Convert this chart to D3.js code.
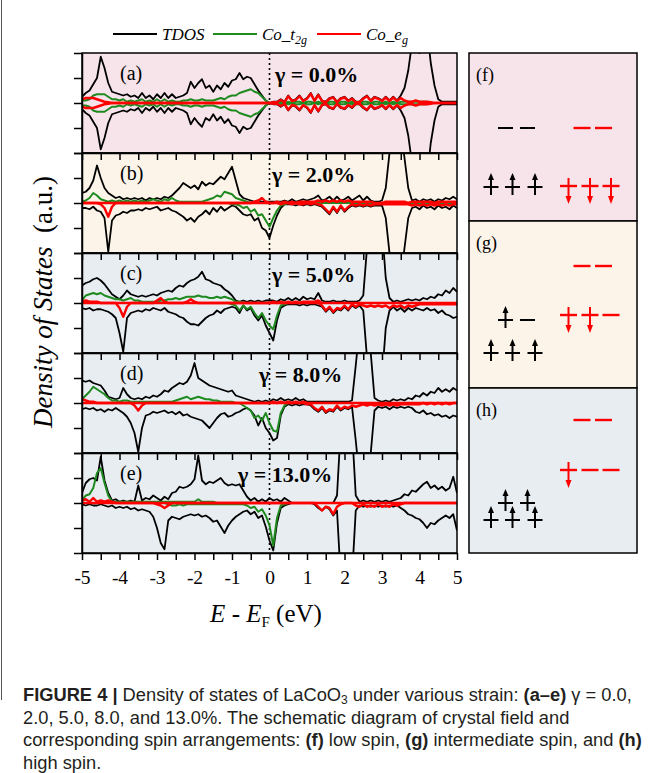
<!DOCTYPE html>
<html>
<head>
<meta charset="utf-8">
<script src="https://cdn.jsdelivr.net/npm/d3@7"></script>
<style>
  body { margin: 0; background: #fff; }
  svg text { font-family: "Liberation Serif", "Times New Roman", serif; }
</style>
</head>
<body>
<div id="chart"></div>
<script>
// energy grid, -5 ... 5 eV in 0.1 eV steps (101 points)
const energy = d3.range(101).map(i => +(-5 + i * 0.1).toFixed(1));
const xTicks = [-5,-4.5,-4,-3.5,-3,-2.5,-2,-1.5,-1,-0.5,0,0.5,1,1.5,2,2.5,3,3.5,4,4.5,5];
const yTicks = [-2,-1,0,1,2];
const panelLetters = ["(a)","(b)","(c)","(d)","(e)"];
const strainLabels = ["γ = 0.0%","γ = 2.0%","γ = 5.0%","γ = 8.0%","γ = 13.0%"];
const legendNames = ["TDOS","Co_t2g","Co_eg"];

// one row per 1.0 eV: -5.0..-4.1 / -4.0..-3.1 / ... / 4.0..4.9 / 5.0
// spin-down arrays hold magnitudes (drawn below zero)

// ---- (a) gamma = 0.0 %, non magnetic: same curve for both spins
const tdosA = [
  0.25,0.4,0.5,0.75,1.0,1.85,1.4,0.8,0.45,0.4,
  0.35,0.3,0.35,0.25,0.3,0.2,0.4,0.2,0.3,0.15,
  0.35,0.2,0.4,0.2,0.35,0.2,0.25,0.3,0.4,0.85,
  0.6,0.8,0.95,0.6,0.7,0.45,0.7,0.55,0.8,0.65,
  0.9,0.95,1.2,0.95,1.05,1.0,0.75,0.5,0.3,0.1,
  0,0.05,0.05,0.15,0.05,0.3,0.1,0.15,0.3,0.1,
  0.2,0.4,0.1,0.35,0.1,0.05,0.2,0.25,0.05,0.2,
  0.25,0.1,0.2,0.05,0.05,0.2,0.3,0.1,0.25,0.2,
  0.1,0.25,0.1,0.25,0.1,0.3,0.6,1.3,2.4,3,
  2.0,3,3,1.6,0.7,0.15,0.05,0.05,0.05,0.05,
  0.05];
const t2gA = [
  0.1,0.1,0.15,0.3,0.35,0.35,0.35,0.25,0.15,0.15,
  0.1,0.15,0.05,0.1,0.05,0.1,0.15,0.05,0.1,0.05,
  0.15,0.05,0.15,0.05,0.1,0.05,0.05,0.1,0.1,0.15,
  0.1,0.1,0.15,0.1,0.1,0.1,0.15,0.2,0.15,0.25,
  0.3,0.3,0.4,0.45,0.5,0.55,0.45,0.4,0.25,0.1,
  0,0,0,0.05,0,0.05,0,0.05,0.05,0,
  0.05,0.05,0,0.05,0,0,0.05,0.05,0,0.05,
  0.05,0,0.05,0,0,0.05,0.05,0,0.05,0.05,
  0,0.05,0,0.05,0,0.05,0.05,0.05,0.05,0.05,
  0.05,0.05,0.05,0,0,0,0,0,0,0,
  0];
const egA = [
  0.15,0.2,0.2,0.2,0.15,0.1,0.05,0.03,0,0,
  0,0,0,0,0,0,0,0,0,0,
  0,0,0,0,0,0,0,0,0,0,
  0,0,0,0,0,0,0,0,0,0,
  0,0,0,0,0,0,0,0,0,0,
  0,0.03,0.03,0.12,0.03,0.27,0.08,0.12,0.27,0.08,
  0.17,0.37,0.08,0.32,0.08,0.03,0.17,0.22,0.03,0.17,
  0.22,0.08,0.17,0.03,0.03,0.17,0.27,0.08,0.22,0.17,
  0.08,0.22,0.08,0.22,0.08,0.2,0.1,0.05,0.05,0.1,
  0.05,0.05,0.05,0.03,0,0,0,0,0,0,
  0];

// ---- (b) gamma = 2.0 %
const tdosUpB = [
  0.4,0.45,0.6,0.9,1.5,1.0,0.6,0.4,0.3,0.2,
  0.25,0.15,0.2,0.15,0.2,0.15,0.2,0.1,0.2,0.15,
  0.2,0.15,0.25,0.2,0.3,0.45,0.6,0.8,0.7,0.6,
  0.7,0.55,0.85,0.7,0.8,0.75,0.9,1.05,0.95,1.2,
  1.45,0.9,0.35,0.2,0.15,0.1,0.05,0.1,0.05,0.05,
  0.05,0.05,0.05,0.05,0.1,0.05,0.15,0.05,0.1,0.15,
  0.1,0.15,0.2,0.3,0.1,0.15,0.25,0.1,0.25,0.1,
  0.15,0.25,0.1,0.2,0.3,0.1,0.25,0.1,0.05,0.05,
  0.1,0.6,2.0,3,3,3,1.8,0.6,0.1,0.15,
  0.05,0.15,0.1,0.15,0.05,0.15,0.1,0.2,0.15,0.25,
  0.15];
const tdosDnB = [
  0.2,0.2,0.25,0.15,0.3,0.35,0.6,1.95,0.7,0.5,
  0.45,0.35,0.4,0.3,0.3,0.25,0.3,0.2,0.25,0.2,
  0.15,0.3,0.25,0.2,0.3,0.35,0.45,0.55,0.7,0.6,
  0.75,0.55,0.45,0.3,0.45,0.2,0.35,0.15,0.3,0.2,
  0.1,0.15,0.3,0.45,0.5,0.45,0.7,0.6,1.0,1.1,
  1.4,0.9,0.5,0.2,0.05,0.05,0.05,0.1,0.05,0.1,
  0.05,0.1,0.05,0.1,0.15,0.3,0.45,0.2,0.4,0.15,
  0.35,0.2,0.1,0.15,0.1,0.15,0.1,0.15,0.1,0.1,
  0.1,0.6,2.0,3,3,3,1.8,0.6,0.2,0.15,
  0.25,0.1,0.2,0.15,0.25,0.1,0.2,0.15,0.25,0.1,
  0.2];
const t2gUpB = [
  0.05,0.1,0.2,0.4,0.3,0.15,0.1,0.05,0.1,0.05,
  0.1,0.05,0.1,0.05,0.1,0.05,0.1,0.05,0.1,0.15,
  0.1,0.05,0.15,0.1,0.2,0.1,0.05,0.05,0.05,0.05,
  0.05,0.05,0.05,0.1,0.15,0.2,0.3,0.25,0.45,0.4,
  0.35,0.2,0.15,0.1,0.05,0,0,0,0,0,
  0,0,0,0,0,0,0,0,0,0,
  0,0,0,0,0,0,0,0,0,0,
  0,0,0,0,0,0,0,0,0,0,
  0,0,0,0,0,0,0,0,0,0,
  0,0,0,0,0,0,0,0,0,0,
  0];
const t2gDnB = [
  0,0,0,0,0,0,0,0,0,0,
  0,0,0,0,0,0,0,0,0,0,
  0,0,0,0,0,0,0,0,0,0,
  0,0,0,0,0,0,0,0,0,0,
  0.05,0.05,0.1,0.2,0.15,0.35,0.25,0.5,0.45,0.7,
  0.95,0.6,0.3,0.1,0.05,0,0,0,0,0,
  0,0,0,0,0,0,0,0,0,0,
  0,0,0,0,0,0,0,0,0,0,
  0,0,0,0,0,0,0,0,0,0,
  0,0,0,0,0,0,0,0,0,0,
  0];
const egUpB = [
  0,0,0,0,0,0,0,0,0,0,
  0,0,0,0,0,0,0,0,0,0,
  0,0,0,0,0,0,0,0,0,0,
  0,0,0,0,0,0,0,0,0,0,
  0,0,0,0,0,0,0.05,0.1,0.2,0.05,
  0,0,0.05,0,0.05,0,0.05,0,0.05,0.05,
  0.05,0.05,0.05,0.1,0.05,0.1,0.05,0.1,0.05,0.1,
  0.05,0.1,0.05,0.05,0.05,0.05,0.05,0.05,0,0,
  0,0.05,0.05,0.05,0.05,0.05,0.05,0,0.05,0.05,
  0.05,0.05,0.05,0.05,0,0.05,0.05,0.05,0.05,0.05,
  0.05];
const egDnB = [
  0,0,0,0,0,0.05,0.2,0.55,0.15,0,
  0,0,0,0,0,0,0,0,0,0,
  0,0,0,0,0,0,0,0,0,0,
  0,0,0,0,0,0,0,0,0,0,
  0,0,0,0,0,0,0,0,0,0,
  0,0,0,0.05,0,0,0.05,0,0.05,0.05,
  0,0.05,0,0.05,0.1,0.25,0.4,0.15,0.35,0.1,
  0.3,0.15,0.05,0.1,0.05,0.1,0.05,0.1,0.05,0.05,
  0.05,0.05,0.05,0.05,0.05,0.05,0.05,0.05,0.1,0.05,
  0.1,0.05,0.1,0.05,0.1,0.05,0.1,0.05,0.1,0.05,
  0.05];

// ---- (c) gamma = 5.0 %
const tdosUpC = [
  0.7,0.8,0.85,0.95,1.0,0.9,0.75,0.55,0.35,0.25,
  0.15,0.3,0.5,0.35,0.3,0.25,0.3,0.25,0.3,0.35,
  0.3,0.4,0.45,0.5,0.45,0.6,0.7,0.65,0.8,0.9,
  0.95,1.05,1.25,0.95,0.9,0.8,0.75,0.7,0.55,0.45,
  0.3,0.1,0.05,0.1,0.05,0.1,0.05,0.1,0.05,0.1,
  0.1,0.1,0.05,0.15,0.1,0.2,0.1,0.2,0.1,0.25,
  0.15,0.2,0.15,0.4,0.1,0.05,0.05,0.1,0.05,0.05,
  0.1,0.05,0.05,0.05,0.1,0.3,2.2,3,3,3,
  3,1.0,0.2,0.05,0.1,0.05,0.1,0.15,0.1,0.15,
  0.1,0.2,0.15,0.25,0.2,0.35,0.3,0.5,0.4,0.6,
  0.45];
const tdosDnC = [
  0.2,0.25,0.2,0.3,0.25,0.25,0.3,0.35,0.45,0.6,
  1.2,1.95,0.6,0.4,0.35,0.3,0.35,0.25,0.3,0.2,
  0.25,0.3,0.2,0.35,0.4,0.45,0.55,0.6,0.75,0.85,
  0.85,0.9,0.75,0.6,0.5,0.45,0.3,0.4,0.25,0.2,
  0.15,0.2,0.4,0.1,0.3,0.2,0.5,0.7,0.5,0.9,
  1.2,1.5,0.7,0.2,0.1,0.05,0.05,0.05,0.1,0.05,
  0.1,0.05,0.05,0.1,0.15,0.35,0.2,0.4,0.25,0.3,
  0.15,0.3,0.1,0.2,0.1,0.3,2.2,3,3,3,
  3,1.0,0.3,0.15,0.3,0.2,0.35,0.2,0.3,0.2,
  0.25,0.3,0.2,0.3,0.25,0.4,0.3,0.45,0.5,0.6,
  0.55];
const t2gUpC = [
  0.1,0.3,0.35,0.4,0.35,0.4,0.3,0.25,0.2,0.15,
  0.15,0.1,0.15,0.2,0.1,0.1,0.05,0.05,0.05,0.05,
  0.05,0.1,0.1,0.15,0.15,0.2,0.15,0.2,0.25,0.25,
  0.25,0.3,0.25,0.25,0.2,0.2,0.25,0.2,0.25,0.2,
  0.15,0.05,0.05,0,0,0,0,0,0,0,
  0,0,0,0,0,0,0,0,0,0,
  0,0,0,0,0,0,0,0,0,0,
  0,0,0,0,0,0,0,0,0,0,
  0,0,0,0,0,0,0,0,0,0,
  0,0,0,0,0,0,0,0,0,0,
  0];
const t2gDnC = [
  0,0,0,0,0,0,0,0,0,0,
  0,0,0,0,0,0,0,0,0,0,
  0,0,0,0,0,0,0,0,0,0,
  0,0,0,0,0,0,0,0,0,0,
  0.05,0.1,0.3,0.1,0.25,0.15,0.4,0.6,0.4,0.7,
  0.9,1.05,0.5,0.1,0.05,0,0,0,0,0,
  0,0,0,0,0,0,0,0,0,0,
  0,0,0,0,0,0,0,0,0,0,
  0,0,0,0,0,0,0,0,0,0,
  0,0,0,0,0,0,0,0,0,0,
  0];
const egUpC = [
  0.05,0.1,0.05,0.05,0.05,0,0,0,0,0,
  0,0,0,0,0,0,0,0,0,0,
  0.1,0.2,0.05,0,0,0,0,0,0.05,0.15,
  0.05,0,0,0,0,0,0,0,0,0,
  0,0,0,0,0,0,0,0,0,0,
  0,0.05,0,0.05,0,0.05,0,0.05,0,0.05,
  0.05,0.05,0.05,0.1,0,0,0,0,0,0,
  0,0,0,0,0,0,0,0,0,0,
  0,0,0,0,0,0,0,0,0,0,
  0,0,0,0,0,0,0,0,0,0,
  0];
const egDnC = [
  0,0,0,0,0,0,0,0,0,0,
  0.2,0.55,0.15,0,0,0,0,0,0,0,
  0,0,0,0,0,0,0,0,0,0,
  0,0,0,0,0,0,0,0,0,0,
  0,0,0,0,0,0,0,0,0,0,
  0,0,0,0,0,0,0,0,0,0,
  0,0,0,0,0.1,0.3,0.15,0.35,0.2,0.25,
  0.1,0.25,0.05,0.15,0.05,0.1,0.15,0.1,0.15,0.1,
  0.15,0.1,0.2,0.1,0.15,0.1,0.2,0.1,0.15,0.1,
  0.05,0.05,0.05,0.05,0.05,0.05,0.05,0.05,0.05,0.05,
  0.05];

// ---- (d) gamma = 8.0 %
const tdosUpD = [
  0.9,0.85,0.9,0.8,0.75,0.7,0.5,0.25,0.2,0.15,
  0.2,0.6,0.35,0.2,0.15,0.2,0.15,0.25,0.2,0.3,
  0.25,0.35,0.5,0.45,0.6,0.7,0.8,0.75,0.85,1.1,
  1.6,1.0,0.9,0.8,0.7,0.65,0.6,0.55,0.5,0.45,
  0.5,0.3,0.25,0.2,0.15,0.1,0.05,0.1,0.05,0.1,
  0.05,0.15,0.1,0.2,0.1,0.15,0.1,0.2,0.1,0.15,
  0.05,0.05,0.05,0.05,0.05,0.05,0.05,0.05,0.05,0.05,
  0.05,0.05,0.1,1.5,3,3,3,2.0,0.2,0.1,
  0.05,0.1,0.05,0.15,0.1,0.15,0.1,0.2,0.15,0.3,
  0.25,0.4,0.3,0.45,0.4,0.6,0.45,0.55,0.45,0.6,
  0.5];
const tdosDnD = [
  0.25,0.2,0.25,0.2,0.3,0.25,0.35,0.25,0.3,0.2,
  0.3,0.4,0.55,0.8,1.2,1.95,1.0,0.5,0.45,0.35,
  0.4,0.35,0.3,0.4,0.35,0.45,0.35,0.5,0.45,0.55,
  0.6,0.65,0.7,0.85,1.0,0.8,0.6,0.45,0.4,0.55,
  0.5,0.4,0.35,0.25,0.2,0.3,0.5,0.9,0.6,1.0,
  1.2,1.5,1.4,0.5,0.15,0.05,0.1,0.05,0.1,0.05,
  0.05,0.1,0.25,0.35,0.2,0.4,0.3,0.35,0.15,0.3,
  0.2,0.25,0.15,1.5,3,3,3,2.0,0.3,0.15,
  0.2,0.15,0.25,0.15,0.2,0.15,0.2,0.15,0.2,0.35,
  0.4,0.3,0.45,0.4,0.5,0.45,0.55,0.5,0.6,0.5,
  0.55];
const t2gUpD = [
  0.15,0.3,0.45,0.65,0.55,0.45,0.35,0.2,0.1,0.1,
  0.05,0.1,0.1,0.05,0.05,0.05,0.05,0.05,0.05,0.05,
  0.05,0.05,0.05,0.05,0.05,0.1,0.15,0.2,0.25,0.15,
  0.2,0.25,0.2,0.15,0.15,0.1,0.1,0.05,0.05,0.05,
  0.05,0,0,0,0,0,0,0,0,0,
  0,0,0,0,0,0,0,0,0,0,
  0,0,0,0,0,0,0,0,0,0,
  0,0,0,0,0,0,0,0,0,0,
  0,0,0,0,0,0,0,0,0,0,
  0,0,0,0,0,0,0,0,0,0,
  0];
const t2gDnD = [
  0,0,0,0,0,0,0,0,0,0,
  0,0,0,0,0,0,0,0,0,0,
  0,0,0,0,0,0,0,0,0,0,
  0,0,0,0,0,0,0,0,0,0,
  0,0,0,0.1,0.2,0.3,0.6,0.5,0.7,0.4,
  0.8,1.1,1.15,0.4,0.1,0,0,0,0,0,
  0,0,0,0,0,0,0,0,0,0,
  0,0,0,0,0,0,0,0,0,0,
  0,0,0,0,0,0,0,0,0,0,
  0,0,0,0,0,0,0,0,0,0,
  0];
const egUpD = [
  0.15,0.1,0.05,0.05,0,0,0,0,0,0,
  0,0,0,0,0,0,0,0,0,0,
  0,0,0,0,0,0,0,0,0,0,
  0,0,0,0,0,0,0,0,0,0,
  0,0,0,0,0,0,0,0,0,0,
  0,0.05,0,0.05,0,0.05,0,0.05,0,0.05,
  0,0,0,0,0,0,0,0,0,0,
  0,0,0,0,0,0,0,0,0,0,
  0,0,0,0,0,0,0,0,0,0,
  0,0,0,0,0,0,0,0,0,0,
  0];
const egDnD = [
  0,0,0,0,0,0,0,0,0,0,
  0,0,0,0,0.1,0.3,0.1,0,0,0,
  0,0,0,0,0,0,0,0,0,0,
  0,0,0,0,0,0,0,0,0,0,
  0,0,0,0,0,0,0,0,0,0,
  0,0,0,0,0,0,0,0,0,0,
  0.05,0.05,0.2,0.3,0.15,0.35,0.25,0.3,0.1,0.25,
  0.15,0.2,0.1,0.15,0.1,0.05,0.1,0.05,0.1,0.05,
  0.1,0.05,0.1,0.05,0.1,0.05,0.05,0.05,0.05,0.05,
  0.05,0,0.05,0,0.05,0,0.05,0,0.05,0,
  0];

// ---- (e) gamma = 13.0 %
const tdosUpE = [
  0.4,0.8,0.95,1.0,0.9,1.85,0.9,0.4,0.1,0.15,
  0.05,0.1,0.05,0.1,0.05,0.7,0.1,0.2,0.15,0.3,
  0.2,0.1,0.25,0.15,0.4,0.45,0.65,0.6,0.65,0.75,
  0.95,1.9,0.9,0.75,0.85,0.8,0.9,1.0,0.8,0.7,
  0.75,0.7,0.75,0.5,0.25,0.1,0.2,0.05,0.15,0.05,
  0.2,0.1,0.15,0.05,0.2,0.1,0,0,0,0,
  0,0,0,0,0,0,0,0,0.3,3,
  3,3,3,0.3,0.05,0.1,0.05,0.1,0.05,0.1,
  0.05,0.1,0.05,0.1,0.15,0.2,0.35,0.3,0.5,0.45,
  0.6,0.75,0.85,0.6,0.7,0.55,0.65,0.5,0.6,1.05,
  0.4];
const tdosDnE = [
  0.05,0.1,0.05,0.1,0.1,0.05,0.1,0.15,0.1,0.2,
  0.15,0.2,0.15,0.25,0.2,0.3,0.25,0.3,0.35,0.55,
  1.0,1.6,1.85,0.7,0.55,0.6,0.65,0.55,0.5,0.45,
  0.5,0.45,0.55,0.5,0.6,0.75,0.7,0.95,1.2,0.9,
  0.7,0.55,0.45,0.35,0.3,0.45,0.35,0.6,0.5,0.95,
  1.5,1.9,0.8,0.2,0.1,0.05,0,0,0,0,
  0,0,0.05,0.2,0.3,0.15,0.25,0.5,0.3,3,
  3,3,3,0.3,0.1,0.15,0.1,0.15,0.1,0.15,
  0.1,0.15,0.1,0.15,0.1,0.2,0.3,0.45,0.5,0.6,
  0.65,0.8,1.0,0.8,0.85,0.7,0.6,0.5,0.6,0.45,
  1.1];
const t2gUpE = [
  0.1,0.3,0.35,0.6,1.2,1.4,0.8,0.3,0.05,0.05,
  0.05,0.05,0.05,0.05,0.05,0.05,0.05,0.05,0.05,0.05,
  0.05,0.05,0.05,0.05,0.05,0.05,0.05,0.05,0.05,0.05,
  0.05,0.15,0.05,0.05,0.05,0.05,0,0,0,0,
  0,0,0,0,0,0,0,0,0,0,
  0,0,0,0,0,0,0,0,0,0,
  0,0,0,0,0,0,0,0,0,0,
  0,0,0,0,0,0,0,0,0,0,
  0,0,0,0,0,0,0,0,0,0,
  0,0,0,0,0,0,0,0,0,0,
  0];
const t2gDnE = [
  0,0,0,0,0,0,0,0,0,0,
  0,0,0,0,0,0,0,0,0,0,
  0,0,0,0.05,0.1,0.1,0.05,0.1,0.05,0.05,
  0.05,0.05,0.05,0.05,0.05,0.05,0.05,0.05,0.05,0.05,
  0.05,0.05,0.05,0.05,0.1,0.2,0.15,0.35,0.25,0.5,
  0.9,1.7,0.6,0.1,0.05,0,0,0,0,0,
  0,0,0,0,0,0,0,0,0,0,
  0,0,0,0,0,0,0,0,0,0,
  0,0,0,0,0,0,0,0,0,0,
  0,0,0,0,0,0,0,0,0,0,
  0];
const egUpE = [
  0.1,0.15,0.05,0.2,0.05,0.1,0.05,0.1,0.05,0,
  0,0,0,0,0,0,0,0,0,0,
  0,0,0,0,0,0,0,0,0,0,
  0,0,0,0,0,0,0,0,0,0,
  0,0,0,0,0,0,0,0,0,0,
  0,0,0,0,0,0,0,0,0,0,
  0,0,0,0,0,0,0,0,0,0,
  0,0,0,0,0,0,0,0,0,0,
  0,0,0,0,0,0,0,0,0,0,
  0,0,0,0,0,0,0,0,0,0,
  0];
const egDnE = [
  0,0,0,0,0,0,0,0,0,0,
  0,0,0,0,0,0,0,0,0,0,
  0.05,0.1,0.2,0.1,0,0,0,0,0,0,
  0,0,0,0,0,0,0,0,0,0,
  0,0,0,0,0,0,0,0,0,0,
  0,0,0,0,0,0,0,0,0,0,
  0,0,0,0.15,0.3,0.15,0.2,0.45,0.15,0.05,
  0,0,0,0.1,0.15,0.05,0.15,0.1,0.15,0.05,
  0.15,0.1,0.15,0.05,0.1,0.05,0,0,0,0,
  0,0,0,0,0,0,0,0,0,0,
  0];

// spin schematic: occupation of each orbital (1 = electron, 0 = empty)
const spinLetters = ["(f)","(g)","(h)"];
const upEg  = [[0,0],[1,0],[1,1]];
const upT2g = [[1,1,1],[1,1,1],[1,1,1]];
const dnEg  = [[0,0],[0,0],[0,0]];
const dnT2g = [[1,1,1],[1,1,0],[1,0,0]];

// ---------------------------------------------------------------
const W = 656, H = 773;
const svg = d3.select("#chart").append("svg").attr("width", W).attr("height", H);
const defs = svg.append("defs");

// thin page frame on the left edge
svg.append("line").attr("x1", 1.5).attr("x2", 1.5).attr("y1", 0).attr("y2", 700)
  .attr("stroke", "#555").attr("stroke-width", 1);

const x = d3.scaleLinear().domain([-5, 5]).range([82, 457]);
const panelTop = 53, panelH = 100;
const bgs = ["#f6e4ea", "#fdf4e9", "#e8edf1", "#e8edf1", "#e8edf1"];
const cBlack = "#000", cGreen = "#1f8a1f", cRed = "#ff0000";

const panels = [
  {tdosUp: tdosA,   tdosDn: tdosA,   t2gUp: t2gA,   t2gDn: t2gA,   egUp: egA,   egDn: egA},
  {tdosUp: tdosUpB, tdosDn: tdosDnB, t2gUp: t2gUpB, t2gDn: t2gDnB, egUp: egUpB, egDn: egDnB},
  {tdosUp: tdosUpC, tdosDn: tdosDnC, t2gUp: t2gUpC, t2gDn: t2gDnC, egUp: egUpC, egDn: egDnC},
  {tdosUp: tdosUpD, tdosDn: tdosDnD, t2gUp: t2gUpD, t2gDn: t2gDnD, egUp: egUpD, egDn: egDnD},
  {tdosUp: tdosUpE, tdosDn: tdosDnE, t2gUp: t2gUpE, t2gDn: t2gDnE, egUp: egUpE, egDn: egDnE}
];
const gammaX = [275, 272, 272, 259, 238];

// backgrounds first, so boundary ticks of one panel are not hidden by the next
panels.forEach((p, i) => {
  const top = panelTop + i * panelH;
  svg.append("rect").attr("x", x(-5)).attr("y", top)
    .attr("width", x(5) - x(-5)).attr("height", panelH).attr("fill", bgs[i]);
  defs.append("clipPath").attr("id", "clip" + i)
    .append("rect").attr("x", x(-5)).attr("y", top)
    .attr("width", x(5) - x(-5)).attr("height", panelH);
});

// dotted Fermi level
svg.append("line")
  .attr("x1", x(0)).attr("x2", x(0))
  .attr("y1", panelTop).attr("y2", panelTop + 5 * panelH)
  .attr("stroke", "#000").attr("stroke-width", 1.6)
  .attr("stroke-dasharray", "2,3");

panels.forEach((p, i) => {
  const top = panelTop + i * panelH;
  const y = d3.scaleLinear().domain([-2, 2]).range([top + panelH, top]);
  const lineUp = d3.line().x((d, k) => x(energy[k])).y(d => y(d));
  const lineDn = d3.line().x((d, k) => x(energy[k])).y(d => y(-d));
  const g = svg.append("g").attr("clip-path", "url(#clip" + i + ")")
    .attr("fill", "none").attr("stroke-linejoin", "round");

  const series = [
    [p.tdosUp, lineUp, cBlack, 1.8], [p.tdosDn, lineDn, cBlack, 1.8],
    [p.t2gUp, lineUp, cGreen, 2], [p.t2gDn, lineDn, cGreen, 2],
    [p.egUp, lineUp, cRed, 2.4], [p.egDn, lineDn, cRed, 2.4]
  ];
  series.forEach(s => {
    g.append("path").attr("d", s[1](s[0]))
      .attr("stroke", s[2]).attr("stroke-width", s[3]);
  });

  // frame + axes
  svg.append("rect").attr("x", x(-5)).attr("y", top)
    .attr("width", x(5) - x(-5)).attr("height", panelH)
    .attr("fill", "none").attr("stroke", "#000").attr("stroke-width", 1.5);

  const ya = svg.append("g").attr("transform", "translate(" + x(-5) + ",0)")
    .call(d3.axisLeft(y).tickValues(yTicks).tickSize(8).tickSizeOuter(0).tickFormat(""));
  const xa = svg.append("g").attr("transform", "translate(0," + (top + panelH) + ")")
    .call(d3.axisBottom(x).tickValues(xTicks).tickSize(7).tickSizeOuter(0).tickPadding(10)
      .tickFormat(d => (i === 4 && Number.isInteger(d)) ? String(d) : ""));
  [ya, xa].forEach(a => {
    a.selectAll("line").attr("stroke", "#000").attr("stroke-width", 1.5);
    a.select(".domain").attr("stroke", "#000").attr("stroke-width", 1.5);
  });
  xa.selectAll("text").attr("fill", "#000")
    .style("font-family", "'Liberation Serif', serif").style("font-size", "19.5px");

  svg.append("text").attr("x", 120).attr("y", top + 27)
    .attr("font-size", 20).text(panelLetters[i]);
  svg.append("text").attr("x", gammaX[i]).attr("y", top + 29)
    .attr("font-size", 22).attr("font-weight", "bold").text(strainLabels[i]);
});

// legend
const legendColors = [cBlack, cGreen, cRed];
const legendX = [113, 213, 317];
legendNames.forEach((name, i) => {
  svg.append("line").attr("x1", legendX[i]).attr("x2", legendX[i] + 44)
    .attr("y1", 34).attr("y2", 34).attr("stroke", legendColors[i]).attr("stroke-width", 2);
  const t = svg.append("text").attr("x", legendX[i] + 49).attr("y", 40)
    .attr("font-size", 17).attr("font-style", "italic");
  const parts = name.split("_");
  if (parts.length === 1) {
    t.text(name);
  } else {
    const sub = parts[1].slice(1);
    t.append("tspan").text(parts[0] + "_" + parts[1][0]);
    t.append("tspan").attr("font-size", 12).attr("dy", 4).text(sub);
  }
});

// axis titles
const xl = svg.append("text").attr("x", 266).attr("y", 622)
  .attr("text-anchor", "middle").attr("font-size", 25);
xl.append("tspan").attr("font-style", "italic").text("E");
xl.append("tspan").text(" - ");
xl.append("tspan").attr("font-style", "italic").text("E");
xl.append("tspan").attr("font-size", 15).attr("dy", 5).text("F");
xl.append("tspan").attr("dy", -5).text(" (eV)");

const yl = svg.append("text").attr("transform", "translate(52,302) rotate(-90)")
  .attr("text-anchor", "middle").attr("font-size", 27);
yl.append("tspan").attr("font-style", "italic").text("Density of States");
yl.append("tspan").text("\u00a0 (a.u.)");

// spin-arrangement panels
const sx0 = 469, sx1 = 637;
const sTops = [53, 221, 388], sBots = [221, 388, 553];
const sBgs = ["#f6e4ea", "#fdf4e9", "#e8edf1"];
// level heights inside each panel: [black eg, black t2g, red eg, red t2g]
const levelY = [[128, 187, 128, 186], [320, 353, 266, 315], [503, 520, 420, 470]];
const t2gCentersBlack = [491, 512.5, 535], egCentersBlack = [505.5, 527.5];
const t2gCentersRed = [568.5, 590, 611], egCentersRed = [582, 603.5];

function arrowUp(g, cx, cy, col) {
  g.append("line").attr("x1", cx).attr("x2", cx).attr("y1", cy + 8).attr("y2", cy - 8)
    .attr("stroke", col).attr("stroke-width", 2);
  g.append("path").attr("d", `M${cx - 3},${cy - 7}L${cx},${cy - 14}L${cx + 3},${cy - 7}Z`)
    .attr("fill", col);
}
function arrowDown(g, cx, cy, col) {
  g.append("line").attr("x1", cx).attr("x2", cx).attr("y1", cy - 8).attr("y2", cy + 11)
    .attr("stroke", col).attr("stroke-width", 2);
  g.append("path").attr("d", `M${cx - 3},${cy + 10}L${cx},${cy + 18}L${cx + 3},${cy + 10}Z`)
    .attr("fill", col);
}
function level(g, cx, cy, w, col, sw) {
  g.append("line").attr("x1", cx - w / 2).attr("x2", cx + w / 2)
    .attr("y1", cy).attr("y2", cy).attr("stroke", col).attr("stroke-width", sw);
}

spinLetters.forEach((lab, i) => {
  svg.append("rect").attr("x", sx0).attr("y", sTops[i])
    .attr("width", sx1 - sx0).attr("height", sBots[i] - sTops[i])
    .attr("fill", sBgs[i]).attr("stroke", "#000").attr("stroke-width", 1.5);
  svg.append("text").attr("x", 476).attr("y", sTops[i] + 28).attr("font-size", 18).text(lab);
  const g = svg.append("g");
  const L = levelY[i];
  egCentersBlack.forEach((cx, k) => {
    level(g, cx, L[0], 15, "#000", 2);
    if (upEg[i][k]) arrowUp(g, cx, L[0], "#000");
  });
  t2gCentersBlack.forEach((cx, k) => {
    level(g, cx, L[1], 15, "#000", 2);
    if (upT2g[i][k]) arrowUp(g, cx, L[1], "#000");
  });
  egCentersRed.forEach((cx, k) => {
    level(g, cx, L[2], 17, cRed, 2.4);
    if (dnEg[i][k]) arrowDown(g, cx, L[2], cRed);
  });
  t2gCentersRed.forEach((cx, k) => {
    level(g, cx, L[3], 17, cRed, 2.4);
    if (dnT2g[i][k]) arrowDown(g, cx, L[3], cRed);
  });
});

// caption
const cap = svg.append("g").attr("font-size", 18.3).attr("fill", "#231f20");
const capLines = [
  [["FIGURE 4 |", 1], [" Density of states of LaCoO", 0], ["3", 2], [" under various strain: ", 0], ["(a–e)", 1], [" γ = 0.0,", 0]],
  [["2.0, 5.0, 8.0, and 13.0%. The schematic diagram of crystal field and", 0]],
  [["corresponding spin arrangements: ", 0], ["(f)", 1], [" low spin, ", 0], ["(g)", 1], [" intermediate spin, and ", 0], ["(h)", 1]],
  [["high spin.", 0]]
];
capLines.forEach((parts, li) => {
  const t = cap.append("text").attr("x", 23).attr("y", 701 + li * 22.5)
    .style("font-family", "'Liberation Sans', Arial, sans-serif");
  let shifted = false;
  parts.forEach(pt => {
    const ts = t.append("tspan").text(pt[0]);
    if (pt[1] === 1) ts.attr("font-weight", "bold");
    if (pt[1] === 2) { ts.attr("font-size", 12).attr("dy", 3); shifted = true; }
    else if (shifted) { ts.attr("dy", -3); shifted = false; }
  });
});
</script>
</body>
</html>
